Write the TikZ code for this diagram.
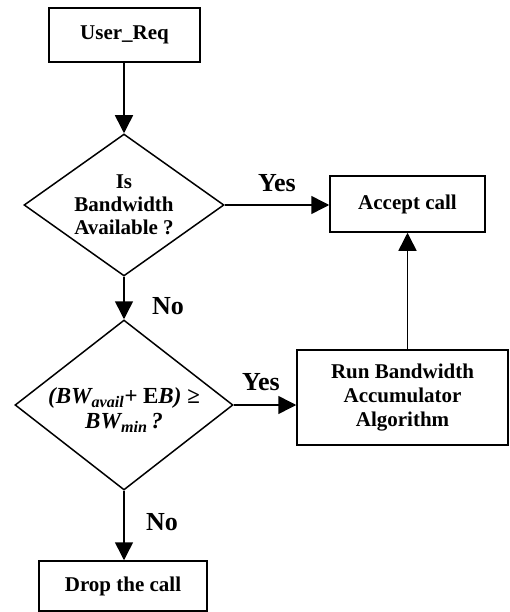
\documentclass[tikz,border=0pt]{standalone}
\usepackage{fontspec}
\setmainfont{Liberation Serif}
\usetikzlibrary{shapes.geometric, arrows.meta, positioning}

\begin{document}
\begin{tikzpicture}[x=1pt, y=1pt,
		box/.style={draw, line width=1.5pt, inner sep=0pt, align=center, font=\fontsize{21}{24}\selectfont\bfseries},
		decision/.style={draw, diamond, line width=1.5pt, inner sep=0pt, align=center, font=\fontsize{21}{23}\selectfont\bfseries},
		arrow/.style={line width=1.5pt, -{Triangle[length=18pt, width=18pt]}},
		lbl/.style={font=\fontsize{26}{28}\selectfont\bfseries}]
		
		%page frame
		\useasboundingbox (0,0) rectangle (509,-612);
		
		%left column
		\node[box, minimum width=151pt, minimum height=54pt] (user) at (124.5,-35) {User\_Req};
		\node[decision, minimum width=200pt, minimum height=142pt, aspect=1.4] (isbw) at (124,-205) {Is\\Bandwidth\\Available ?};
		\node[decision, minimum width=218pt, minimum height=170pt, aspect=1.28, inner sep=-10pt,
			font=\fontsize{23}{25}\selectfont\bfseries] (cond) at (124,-405)
			{\raisebox{0pt}[\dimexpr\height+12pt\relax]{\begin{tabular}{@{}c@{}}\itshape (BW\textsubscript{avail}+ \textup{E}B) ≥\\ \itshape BW\textsubscript{min}\,?\end{tabular}}};
		\node[box, minimum width=168pt, minimum height=50pt] (drop) at (123,-586) {Drop the call};
		
		%right column
		\node[box, minimum width=155pt, minimum height=56pt] (accept) at (407.5,-204) {Accept call};
		\node[box, minimum width=211pt, minimum height=95pt] (run) at (402.5,-397.5) {Run Bandwidth\\Accumulator\\Algorithm};
		
		%connectors
		\draw[arrow] (user.south -| isbw.north) -- (isbw);
		\draw[arrow] (isbw.south) -- (cond.north) node[lbl, pos=0.7, right=24pt] {No};
		\draw[arrow] (cond.south) -- (cond.south |- drop.north) node[lbl, pos=0.45, right=18pt] {No};
		\draw[arrow] (isbw.east) -- (isbw.east -| accept.west) node[lbl, midway, above=9pt] {Yes};
		\draw[arrow] (cond.east) -- (cond.east -| run.west) node[lbl, midway, above=10pt, xshift=-4pt] {Yes};
		\draw[arrow] (accept.south |- run.north) -- (accept.south);
	\end{tikzpicture}
\end{document}
